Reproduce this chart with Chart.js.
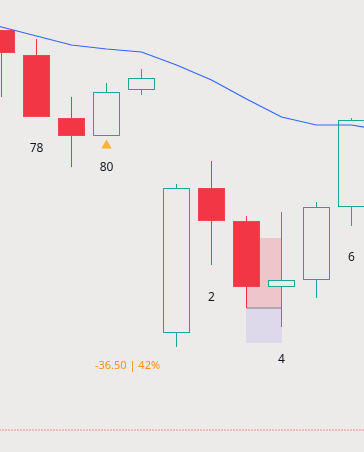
<!DOCTYPE html>
<html>
<head>
<meta charset="utf-8">
<script src="https://cdn.jsdelivr.net/npm/chart.js@4/dist/chart.umd.min.js"></script>
<style>
html, body { margin: 0; padding: 0; background: #ECEBE9; }
#wrap { width: 364px; height: 452px; }
</style>
</head>
<body>
<div id="wrap"><canvas id="myChart"></canvas></div>
<script>
// candles (price units)
bars   = [0, 1, 2, 3, 4, 5, 6, 7, 8, 9, 10];
opens  = [311, 298.5, 267, 258, 281, 159.5, 232, 215.5, 182.5, 186, 222.5];
highs  = [311, 306.5, 277.5, 284.5, 291.5, 234, 245.5, 218, 220, 225, 267];
lows   = [277.5, 267.5, 242.5, 258, 278.5, 152.5, 193.5, 172, 162.5, 177, 213];
closes = [299.5, 267.5, 258, 280, 287, 232, 215.5, 182.5, 186, 222.5, 266];

// moving average
ma_x = [-1, 0, 1, 2, 3, 4, 5, 6, 7, 8, 9, 10, 11];
ma_y = [317, 312.5, 308, 303.5, 301.5, 300, 293.5, 286, 276.5, 267.5, 263.5, 263.5, 260.5];

// labels under candles
label_x = [1, 3, 6, 8, 10];
label_y = [251.5, 242, 177, 146, 197];
label_text = ['78', '80', '2', '4', '6'];

// position box
box_x = 7.5;
box_entry = 172;
box_target = 207;
box_stop = 154.5;
box_text = '-36.50 | 42%';
box_text_x = 3.6;
box_text_y = 143;

marker_x = 3;
marker_y = 253.25;

bottom_line = 111;

var up = '#1FA596', down = '#F23645', bg = '#ECEBE9';

var bodyColors = [], bodyBorders = [], wickColors = [];
for (var i = 0; i < bars.length; i++) {
    var isUp = closes[i] >= opens[i];
    bodyColors.push(isUp ? bg : down);
    bodyBorders.push(isUp ? up : '#F0444F');
    wickColors.push(isUp ? up : down);
}

var textPlugin = {
    id: 'texts',
    afterDatasetsDraw: function (chart) {
        var ctx = chart.ctx, xs = chart.scales.x, ys = chart.scales.y;
        ctx.save();
        ctx.textAlign = 'center';
        ctx.textBaseline = 'middle';
        ctx.fillStyle = '#131722';
        ctx.font = '12px "Noto Sans"';
        for (var i = 0; i < label_text.length; i++) {
            ctx.fillText(label_text[i], xs.getPixelForValue(label_x[i]), ys.getPixelForValue(label_y[i]));
        }
        ctx.fillStyle = '#F7901E';
        ctx.font = '11px "Noto Sans"';
        ctx.fillText(box_text, xs.getPixelForValue(box_text_x), ys.getPixelForValue(box_text_y));
        ctx.restore();
    }
};

var ctx = document.getElementById('myChart').getContext('2d');
var myChart = new Chart(ctx, {
    type: 'bar',
    data: {
        datasets: [{
            type: 'bar',
            data: [{x: box_x, y: [box_entry, box_target]}, {x: box_x, y: [box_stop, box_entry]}],
            backgroundColor: ['#EEC6CA', '#DED9EA'],
            borderWidth: 0,
            barThickness: 36,
            order: 10
        }, {
            type: 'line',
            data: [{x: 7, y: box_entry}, {x: 8, y: box_entry}],
            borderColor: '#7E7E86',
            borderWidth: 1,
            pointRadius: 0,
            order: 9
        }, {
            type: 'line',
            data: [{x: -1, y: bottom_line}, {x: 12, y: bottom_line}],
            borderColor: '#F23645',
            borderWidth: 1,
            borderDash: [1, 2],
            pointRadius: 0,
            order: 8
        }, {
            type: 'bar',
            data: bars.map(function (b, i) { return {x: b, y: [lows[i], highs[i]]}; }),
            backgroundColor: wickColors,
            borderWidth: 0,
            barThickness: 1,
            order: 5
        }, {
            type: 'bar',
            data: bars.map(function (b, i) { return {x: b, y: [opens[i], closes[i]]}; }),
            backgroundColor: bodyColors,
            borderColor: bodyBorders,
            borderWidth: 1,
            borderSkipped: false,
            barThickness: 27,
            order: 4
        }, {
            type: 'line',
            data: ma_x.map(function (x, i) { return {x: x, y: ma_y[i]}; }),
            borderColor: '#3366F6',
            borderWidth: 1.2,
            pointRadius: 0,
            tension: 0,
            order: 1
        }, {
            type: 'scatter',
            data: [{x: marker_x, y: marker_y}],
            pointStyle: 'triangle',
            pointRadius: 6,
            backgroundColor: '#F9B42D',
            borderColor: '#F9B42D',
            borderWidth: 0,
            order: 0
        }]
    },
    options: {
        responsive: true,
        maintainAspectRatio: false,
        animation: false,
        layout: { padding: 0, autoPadding: false },
        datasets: { bar: { grouped: false, inflateAmount: 0 } },
        plugins: { legend: { display: false }, tooltip: { enabled: false } },
        scales: {
            x: { type: 'linear', display: false, offset: false, min: -0.042857, max: 10.357143 },
            y: { type: 'linear', display: false, min: 100, max: 326 }
        }
    },
    plugins: [textPlugin]
});
</script>
</body>
</html>
